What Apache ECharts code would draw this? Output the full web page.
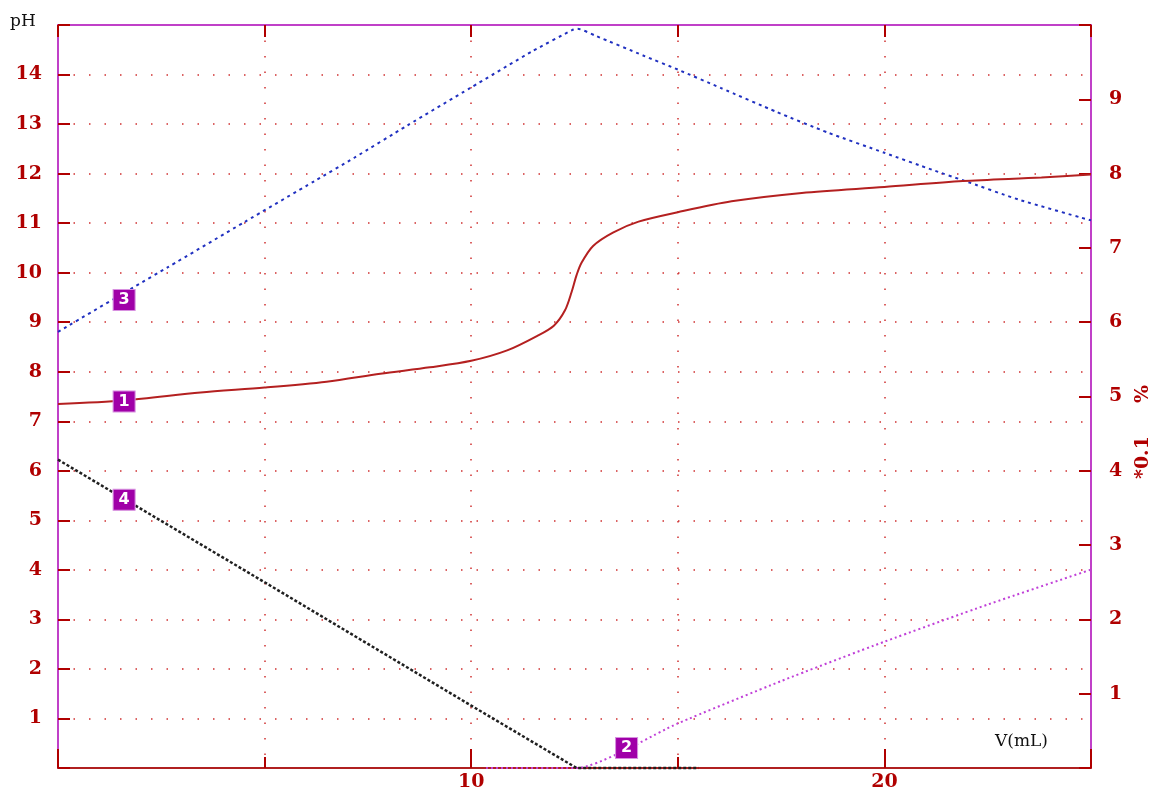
<!DOCTYPE html>
<html>
<head>
  <meta charset="utf-8">
  <title>pH titration</title>
  <script src="https://cdn.jsdelivr.net/npm/echarts@6/dist/echarts.min.js"></script>
  <style>
    html, body { margin: 0; background: #fff; }
    #main { width: 1153px; height: 794px; }
  </style>
</head>
<body>
  <div id="main"></div>
  <script>
    // curve 1: pH (left axis)
    var curvePH = [
      [0, 7.35], [1.6, 7.42], [3.45, 7.58], [5, 7.68], [6.5, 7.8], [7.8, 7.96],
      [9, 8.09], [10, 8.22], [10.87, 8.43], [11.59, 8.72], [12, 8.93], [12.27, 9.24],
      [12.43, 9.61], [12.55, 9.95], [12.67, 10.2], [12.95, 10.54], [13.43, 10.81],
      [14.05, 11.03], [15, 11.22], [16.3, 11.44], [18, 11.61], [20, 11.73],
      [21.9, 11.85], [23.8, 11.92], [25, 11.98]
    ];
    // curves 2-4: *0.1 % (right axis)
    var curve2 = [[10.36, 0], [12.55, 0], [15, 0.6], [17.5, 1.17], [20, 1.7], [22.5, 2.2], [25, 2.67]];
    var curve3 = [
      [0, 5.87], [1.89, 6.49], [2.66, 6.74], [4.52, 7.35], [6.21, 7.9], [7.16, 8.21],
      [8.46, 8.65], [9.97, 9.15], [11.49, 9.65], [12.44, 9.93], [12.57, 9.95],
      [13.03, 9.85], [14.16, 9.59], [15, 9.4], [16.05, 9.15], [17.39, 8.83],
      [18.64, 8.55], [20, 8.28], [21.16, 8.05], [21.9, 7.91], [23.25, 7.65], [25, 7.37]
    ];
    var curve4 = [[0, 4.15], [5, 2.5], [10, 0.84], [12.55, 0], [15.5, 0]];

    // numbered tags on the curves
    var tag1 = [1.6, 7.4];
    var tag2 = [13.76, 0.27];
    var tag3 = [1.6, 6.3];
    var tag4 = [1.6, 3.61];

    var red = '#b00000';
    var grid = '#d03030';
    var frame = '#c040c8';
    var numFont = 'DejaVu Serif';

    function tag(pt, txt) {
      return {
        symbol: 'rect',
        symbolSize: [22, 21],
        itemStyle: { color: '#a000a8', borderColor: '#d890e0', borderWidth: 1 },
        label: { show: true, color: '#fff', fontWeight: 'bold', fontSize: 16, fontFamily: 'DejaVu Sans' },
        data: [{ coord: pt, value: txt }]
      };
    }

    var chart = echarts.init(document.getElementById('main'));
    chart.setOption({
      animation: false,
      grid: { left: 58, right: 62, top: 25, bottom: 26 },
      xAxis: [{
        type: 'value', min: 0, max: 25, interval: 5, position: 'bottom',
        axisLine: { onZero: false, lineStyle: { color: '#b02020', width: 2 } },
        axisTick: { inside: true, length: 11, lineStyle: { color: red, width: 2 } },
        axisLabel: {
          color: red, fontWeight: 'bold', fontSize: 19, fontFamily: numFont, margin: 5,
          formatter: function (v) { return (v === 10 || v === 20) ? String(v) : ''; }
        },
        splitLine: { show: true, lineStyle: { color: grid, width: 1.5, type: [1.5, 14] } }
      }, {
        // longer ticks at 10 and 20
        type: 'value', min: 0, max: 25, interval: 10, position: 'bottom',
        axisLine: { show: false, onZero: false },
        axisTick: { inside: true, length: 19, lineStyle: { color: red, width: 2 } },
        axisLabel: { show: false },
        splitLine: { show: false }
      }, {
        type: 'value', min: 0, max: 25, interval: 5, position: 'top',
        axisLine: { onZero: false, lineStyle: { color: frame, width: 2 } },
        axisTick: { inside: true, length: 12, lineStyle: { color: red, width: 2 } },
        axisLabel: { show: false },
        splitLine: { show: false }
      }],
      yAxis: [{
        type: 'value', min: 0, max: 15, interval: 1, position: 'left',
        axisLine: { show: true, onZero: false, lineStyle: { color: frame, width: 2 } },
        axisTick: { show: true, inside: true, length: 12, lineStyle: { color: red, width: 2 } },
        axisLabel: {
          color: red, fontWeight: 'bold', fontSize: 19, fontFamily: numFont, margin: 16,
          formatter: function (v) { return (v > 0 && v < 15) ? String(v) : ''; }
        },
        splitLine: { show: true, lineStyle: { color: grid, width: 1.5, type: [1.5, 14] } }
      }, {
        type: 'value', min: 0, max: 10, interval: 1, position: 'right',
        axisLine: { show: true, onZero: false, lineStyle: { color: frame, width: 2 } },
        axisTick: { show: true, inside: true, length: 12, lineStyle: { color: red, width: 2 } },
        axisLabel: {
          color: red, fontWeight: 'bold', fontSize: 19, fontFamily: numFont, margin: 18,
          formatter: function (v) { return (v > 0 && v < 10) ? String(v) : ''; }
        },
        splitLine: { show: false }
      }],
      graphic: [
        { type: 'text', left: 10, top: 13, style: { text: 'pH', fill: '#111', font: '17px "DejaVu Serif"' } },
        { type: 'text', left: 995, top: 733, style: { text: 'V(mL)', fill: '#111', font: '17px "DejaVu Serif"' } },
        {
          type: 'text', x: 1143, y: 432, rotation: Math.PI / 2,
          style: {
            text: '*0.1     %', fill: red, font: 'bold 19px "DejaVu Serif"',
            align: 'center', verticalAlign: 'middle'
          }
        }
      ],
      series: [{
        name: '1', type: 'line', xAxisIndex: 0, yAxisIndex: 0, data: curvePH,
        smooth: 0.3, showSymbol: false, z: 4,
        lineStyle: { color: '#b42020', width: 2 },
        markPoint: tag(tag1, '1')
      }, {
        name: '2', type: 'line', xAxisIndex: 0, yAxisIndex: 1, data: curve2,
        smooth: 0.2, showSymbol: false, z: 3, clip: false,
        lineStyle: { color: '#c040d8', width: 2, type: [2, 3] },
        markPoint: tag(tag2, '2')
      }, {
        name: '3', type: 'line', xAxisIndex: 0, yAxisIndex: 1, data: curve3,
        smooth: 0.2, showSymbol: false, z: 3,
        lineStyle: { color: '#2030c0', width: 2, type: [3, 4] },
        markPoint: tag(tag3, '3')
      }, {
        name: '4', type: 'line', xAxisIndex: 0, yAxisIndex: 1, data: curve4,
        showSymbol: false, z: 3, clip: false,
        lineStyle: { color: '#202020', width: 2.5, type: [3, 2] },
        markPoint: tag(tag4, '4')
      }]
    });
  </script>
</body>
</html>
